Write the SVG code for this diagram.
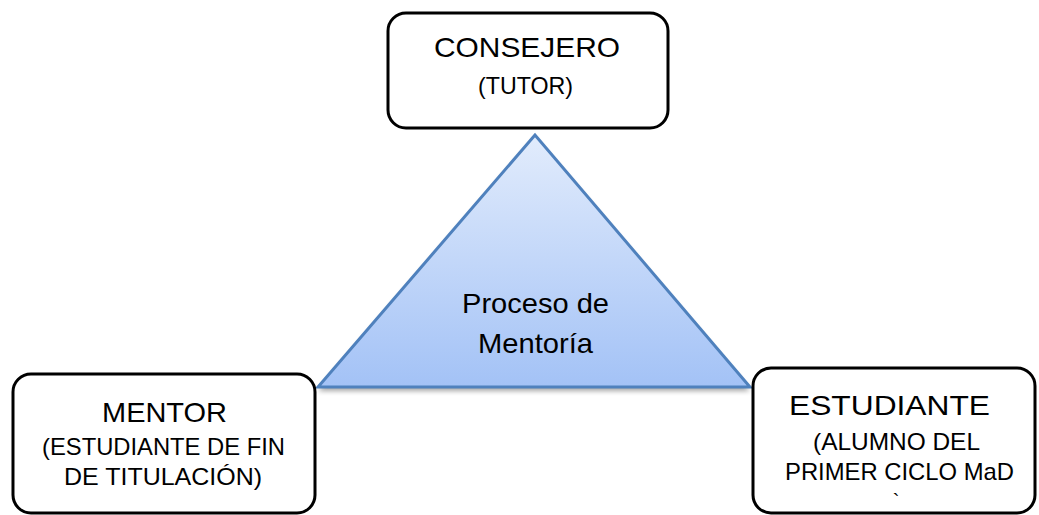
<svg xmlns="http://www.w3.org/2000/svg" width="1039" height="515" viewBox="0 0 1039 515">
  <defs>
    <linearGradient id="triGrad" x1="0" y1="0" x2="0" y2="1">
      <stop offset="0" stop-color="#e2ecfc"/>
      <stop offset="1" stop-color="#a3c2f6"/>
    </linearGradient>
    <filter id="shadow" x="-10%" y="-10%" width="120%" height="130%">
      <feGaussianBlur stdDeviation="2.5"/>
    </filter>
  </defs>
  <style>
    .box { fill: #ffffff; stroke: #000000; stroke-width: 3; }
    .t { font-family: "Liberation Sans", Arial, sans-serif; fill: #000000; text-anchor: middle; }
    .big { font-size: 28px; }
    .small { font-size: 24px; }
  </style>
  <rect width="1039" height="515" fill="#ffffff"/>
  <g id="process">
    <polygon points="535,139 318,391 750,391" fill="#000" opacity="0.35" filter="url(#shadow)"/>
    <polygon points="535,135 318,387 750,387" fill="url(#triGrad)" stroke="#4f81bd" stroke-width="3" stroke-linejoin="miter"/>
    <text class="t big" x="535.5" y="313" textLength="147" lengthAdjust="spacingAndGlyphs">Proceso de</text>
    <text class="t big" x="535.5" y="353" textLength="115" lengthAdjust="spacingAndGlyphs">Mentoría</text>
  </g>
  <g id="consejero">
    <rect class="box" x="388" y="13" width="280" height="115" rx="18"/>
    <text class="t big" x="527" y="57" textLength="186" lengthAdjust="spacingAndGlyphs">CONSEJERO</text>
    <text class="t small" x="525.5" y="94" textLength="95" lengthAdjust="spacingAndGlyphs">(TUTOR)</text>
  </g>
  <g id="mentor">
    <rect class="box" x="13" y="374" width="302" height="139" rx="18"/>
    <text class="t big" x="164.5" y="422" textLength="125" lengthAdjust="spacingAndGlyphs">MENTOR</text>
    <text class="t small" x="163.5" y="455" textLength="243" lengthAdjust="spacingAndGlyphs">(ESTUDIANTE DE FIN</text>
    <text class="t small" x="163" y="485" textLength="198" lengthAdjust="spacingAndGlyphs">DE TITULACIÓN)</text>
  </g>
  <g id="estudiante">
    <rect class="box" x="753" y="368" width="282" height="145" rx="18"/>
    <text class="t big" x="889.5" y="415" textLength="201" lengthAdjust="spacingAndGlyphs">ESTUDIANTE</text>
    <text class="t small" x="896.5" y="450" textLength="167" lengthAdjust="spacingAndGlyphs">(ALUMNO DEL</text>
    <text class="t small" x="899.5" y="480" textLength="229" lengthAdjust="spacingAndGlyphs">PRIMER CICLO MaD</text>
    <text class="t small" x="896" y="508" style="font-size:20px">`</text>
  </g>
  <g id="connectors"></g>
</svg>
